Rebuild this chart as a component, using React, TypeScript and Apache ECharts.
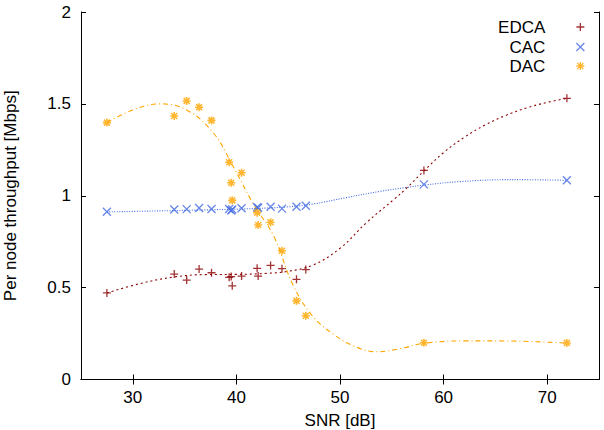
import React, { useEffect, useRef } from "react";
import * as echarts from "echarts";

// Measured SNR values [dB] shared by all three schemes
const snr = [27.5, 34.0, 35.2, 36.4, 37.6, 39.3, 39.5, 39.6, 40.5, 42.0, 42.1, 43.3, 44.4, 45.8, 46.7, 58.1, 71.9];

// Per node throughput [Mbps]
const edca = [0.471, 0.574, 0.541, 0.601, 0.581, 0.556, 0.56, 0.51, 0.563, 0.605, 0.563, 0.621, 0.603, 0.545, 0.598, 1.138, 1.53];
const cac = [0.913, 0.925, 0.927, 0.933, 0.928, 0.928, 0.92, 0.925, 0.932, 0.937, 0.935, 0.94, 0.93, 0.94, 0.946, 1.062, 1.084];
const dac = [1.398, 1.434, 1.516, 1.482, 1.41, 1.182, 1.071, 0.975, 1.125, 0.908, 0.841, 0.856, 0.701, 0.428, 0.347, 0.2, 0.199];

// Smoothed trend curves (sampled [snr, throughput] pairs)
const edcaFit = [
  [27.5, 0.471], [30.7, 0.522], [34, 0.558], [37, 0.571], [40, 0.572], [43, 0.578],
  [44.9, 0.588], [47.4, 0.623], [50, 0.714], [52.6, 0.856], [55.2, 0.98], [56.4, 1.04],
  [58.1, 1.135], [60, 1.235], [62, 1.318], [64, 1.385], [66, 1.437], [68, 1.478], [70, 1.508], [71.9, 1.53],
];
const cacFit = [
  [27.5, 0.912], [32, 0.917], [37, 0.923], [42, 0.931], [45, 0.94], [47.4, 0.955],
  [50.6, 0.99], [53.9, 1.024], [56.4, 1.045], [58.1, 1.058], [61.6, 1.077], [66.7, 1.088], [71.9, 1.084],
];
const dacFit = [
  [27.5, 1.398], [30, 1.467], [32.6, 1.5], [35.2, 1.467], [37.8, 1.34], [39.7, 1.158],
  [41.6, 0.959], [43.6, 0.78], [45.5, 0.51], [47.4, 0.342], [49.4, 0.245], [51.3, 0.183],
  [53.5, 0.151], [55.8, 0.168], [58.1, 0.197], [62, 0.21], [65.4, 0.21], [71.9, 0.198],
];

const xTicks = [30, 40, 50, 60, 70];

const FONT = "'Liberation Sans', Arial, sans-serif";
const RED = "#8b0000";
const BLUE = "#4169e1";
const ORANGE = "#ffa500";

const PLUS = "path://M0,4H8M4,0V8";
const CROSS = "path://M0,0L8,8M8,0L0,8";
const STAR = "path://M0,4H8M4,0V8M1,1L7,7M7,1L1,7";

const pts = (ys: number[]) => snr.map((x, i) => [x, ys[i]]);

export default function App() {
  const ref = useRef<HTMLDivElement>(null);

  useEffect(() => {
    if (!ref.current) return;
    const chart = echarts.init(ref.current, undefined, { renderer: "svg" });

    const axisLine = { show: true, lineStyle: { color: "#000", width: 1 } };
    const tick = { show: true, inside: true, length: 5, lineStyle: { color: "#000", width: 1 } };
    const label = { fontFamily: FONT, fontSize: 17, color: "#000" };

    const legendFor = (name: string, icon: string, color: string, top: number) => ({
      data: [
        {
          name,
          icon,
          itemStyle: { color: "transparent", borderColor: color, borderWidth: 1.3 },
        },
      ],
      right: 19,
      top,
      padding: 0,
      align: "right",
      itemWidth: 60,
      itemHeight: 8,
      selectedMode: false,
      textStyle: { ...label, padding: 0 },
    });

    const scatter = (name: string, ys: number[], symbol: string, color: string, bw: number) => ({
      name,
      type: "scatter",
      data: pts(ys),
      symbol,
      symbolSize: 8,
      itemStyle: { color: "transparent", borderColor: color, borderWidth: bw },
      z: 4,
    });

    const fit = (name: string, data: number[][], color: string, type: number[]) => ({
      name,
      type: "line",
      data,
      smooth: 0.4,
      showSymbol: false,
      lineStyle: { color, width: 1.1, type },
      z: 3,
    });

    chart.setOption({
      animation: false,
      backgroundColor: "#fff",
      grid: {
        left: 81,
        right: 5,
        top: 12,
        bottom: 50.5,
        containLabel: false,
        outerBoundsMode: "none",
      },
      legend: [
        legendFor("EDCA", PLUS, RED, 18.5),
        legendFor("CAC", CROSS, BLUE, 38.5),
        legendFor("DAC", STAR, ORANGE, 57.5),
      ],
      xAxis: [
        {
          type: "value",
          position: "bottom",
          min: 25,
          max: 75,
          axisLine,
          axisTick: { ...tick, customValues: xTicks },
          axisLabel: { ...label, margin: 9, customValues: xTicks },
          splitLine: { show: false },
          name: "SNR [dB]",
          nameLocation: "middle",
          nameGap: 32,
          nameTextStyle: label,
        },
        {
          type: "value",
          position: "top",
          min: 25,
          max: 75,
          axisLine,
          axisTick: { ...tick, customValues: xTicks },
          axisLabel: { show: false },
          splitLine: { show: false },
        },
      ],
      yAxis: [
        {
          type: "value",
          position: "left",
          min: 0,
          max: 2,
          interval: 0.5,
          axisLine,
          axisTick: tick,
          axisLabel: { ...label, margin: 10 },
          splitLine: { show: false },
          name: "Per node throughput [Mbps]",
          nameLocation: "middle",
          nameGap: 62,
          nameTextStyle: label,
        },
        {
          type: "value",
          position: "right",
          min: 0,
          max: 2,
          interval: 0.5,
          axisLine,
          axisTick: tick,
          axisLabel: { show: false },
          splitLine: { show: false },
        },
      ],
      series: [
        fit("EDCA trend", edcaFit, RED, [2, 3]),
        fit("CAC trend", cacFit, BLUE, [1, 1.5]),
        fit("DAC trend", dacFit, ORANGE, [5, 3, 1, 3]),
        scatter("EDCA", edca, PLUS, RED, 1.3),
        scatter("CAC", cac, CROSS, BLUE, 1.3),
        scatter("DAC", dac, STAR, ORANGE, 1.6),
      ],
    });

    return () => chart.dispose();
  }, []);

  return (
    <div
      ref={ref}
      style={{ position: "fixed", left: 0, top: 0, width: 604, height: 430, background: "#fff" }}
    />
  );
}
